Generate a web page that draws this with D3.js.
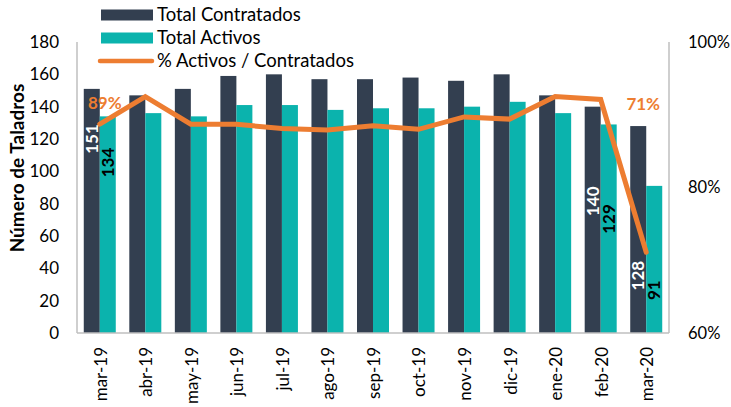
<!DOCTYPE html>
<html><head><meta charset="utf-8">
<script src="https://cdn.jsdelivr.net/npm/d3@7"></script>
<style>
html,body{margin:0;padding:0;background:#fff;}
svg{display:block;font-family:Lato,"Open Sans",sans-serif;}
</style></head>
<body>
<svg id="c" width="731" height="407"></svg>
<script>
const categories = ["mar-19","abr-19","may-19","jun-19","jul-19","ago-19","sep-19","oct-19","nov-19","dic-19","ene-20","feb-20","mar-20"];
const contratados = [151,147,151,159,160,157,157,158,156,160,147,140,128];
const activos = [134,136,134,141,141,138,139,139,140,143,136,129,91];
const pctActivos = [88.7,92.5,88.7,88.7,88.1,87.9,88.5,88.0,89.7,89.4,92.5,92.1,71.1];
const leftTicks = [0,20,40,60,80,100,120,140,160,180];
const rightTicks = [60,80,100];
// labelled points: index, label anchor (in bar units) for dark and teal label
const labelIdx = [0,11,12];
const darkLabelAt = [120,81.5,35.5];
const tealLabelAt = [105.5,70.5,26.5];

const W=731,H=407, m={l:77,r:62,t:42,b:74};
const svg=d3.select("#c");
const x=d3.scaleBand().domain(categories).range([m.l,W-m.r]).paddingInner(0).paddingOuter(0);
const y=d3.scaleLinear().domain([0,180]).range([H-m.b,m.t]);
const y2=d3.scaleLinear().domain([60,100]).range([H-m.b,m.t]);
const bw=16, off=(x.bandwidth()-2*bw)/2;
const dark="#333F50", teal="#0BB3AD", orange="#ED7D31", grid="#BFBFBF";

// bars
svg.append("g").selectAll("rect").data(categories).join("rect")
 .attr("x",d=>x(d)+off).attr("width",bw)
 .attr("y",(d,i)=>y(contratados[i])).attr("height",(d,i)=>y(0)-y(contratados[i]))
 .attr("fill",dark);
svg.append("g").selectAll("rect").data(categories).join("rect")
 .attr("x",d=>x(d)+off+bw).attr("width",bw)
 .attr("y",(d,i)=>y(activos[i])).attr("height",(d,i)=>y(0)-y(activos[i]))
 .attr("fill",teal);

// axes lines
svg.append("line").attr("x1",m.l).attr("x2",m.l).attr("y1",m.t).attr("y2",H-m.b).attr("stroke",grid).attr("stroke-width",1.5);
svg.append("line").attr("x1",W-m.r).attr("x2",W-m.r).attr("y1",m.t).attr("y2",H-m.b).attr("stroke",grid).attr("stroke-width",1.5);
svg.append("line").attr("x1",m.l).attr("x2",W-m.r).attr("y1",H-m.b).attr("y2",H-m.b).attr("stroke",grid).attr("stroke-width",1.5);

// left ticks
svg.append("g").selectAll("text").data(leftTicks).join("text")
 .attr("x",59).attr("y",d=>y(d)).attr("dy","0.35em").attr("text-anchor","end")
 .attr("font-size",17).attr("fill","#000").text(d=>d);
// right ticks
svg.append("g").selectAll("text").data(rightTicks).join("text")
 .attr("x",688).attr("y",d=>y2(d)).attr("dy","0.35em").attr("text-anchor","start")
 .attr("font-size",16.5).attr("fill","#000").text(d=>d+"%");
// x labels
svg.append("g").selectAll("text").data(categories).join("text")
 .attr("transform",d=>`translate(${x(d)+x.bandwidth()/2+1},${H-m.b+14}) rotate(-90)`)
 .attr("dy","0.35em").attr("text-anchor","end").attr("font-size",17).attr("fill","#000").text(d=>d);
// y title
svg.append("text").attr("transform",`translate(17,168) rotate(-90)`)
 .attr("dy","0.35em").attr("text-anchor","middle").attr("font-size",19).attr("font-weight","bold").text("Número de Taladros");

// line
const line=d3.line().x((d,i)=>x(categories[i])+x.bandwidth()/2).y(d=>y2(d));
svg.append("path").datum(pctActivos).attr("d",line).attr("fill","none")
 .attr("stroke",orange).attr("stroke-width",5).attr("stroke-linejoin","miter").attr("stroke-linecap","round");

// data labels
labelIdx.forEach((idx,k)=>{
  const cx=x(categories[idx])+off;
  svg.append("text").attr("transform",`translate(${cx+bw/2},${y(darkLabelAt[k])}) rotate(-90)`)
   .attr("text-anchor","middle").attr("dy","0.36em").attr("font-size",17).attr("font-weight","bold").attr("fill","#fff").text(contratados[idx]);
  svg.append("text").attr("transform",`translate(${cx+bw*1.5},${y(tealLabelAt[k])}) rotate(-90)`)
   .attr("text-anchor","middle").attr("dy","0.36em").attr("font-size",17).attr("font-weight","bold").attr("fill","#000").text(activos[idx]);
});
// pct labels
svg.append("text").attr("x",x(categories[0])+x.bandwidth()/2+5).attr("y",103).attr("dy","0.35em")
 .attr("text-anchor","middle").attr("font-size",17).attr("font-weight","bold").attr("fill",orange).text(Math.round(pctActivos[0])+"%");
svg.append("text").attr("x",x(categories[12])+x.bandwidth()/2-3).attr("y",104).attr("dy","0.35em")
 .attr("text-anchor","middle").attr("font-size",17).attr("font-weight","bold").attr("fill",orange).text(Math.round(pctActivos[12])+"%");

// legend
const lg=svg.append("g");
const leg=[{t:"Total Contratados",c:dark,k:"rect"},{t:"Total Activos",c:teal,k:"rect"},{t:"% Activos / Contratados",c:orange,k:"line"}];
leg.forEach((d,i)=>{
  const cy=15+i*23;
  if(d.k==="rect") lg.append("rect").attr("x",101).attr("y",cy-5.5).attr("width",52).attr("height",11).attr("fill",d.c);
  else lg.append("line").attr("x1",100).attr("x2",152).attr("y1",cy).attr("y2",cy).attr("stroke",d.c).attr("stroke-width",4.5).attr("stroke-linecap","round");
  lg.append("text").attr("x",157).attr("y",cy).attr("dy","0.35em").attr("font-size",18.5).attr("fill","#000").text(d.t);
});
</script>
</body></html>
